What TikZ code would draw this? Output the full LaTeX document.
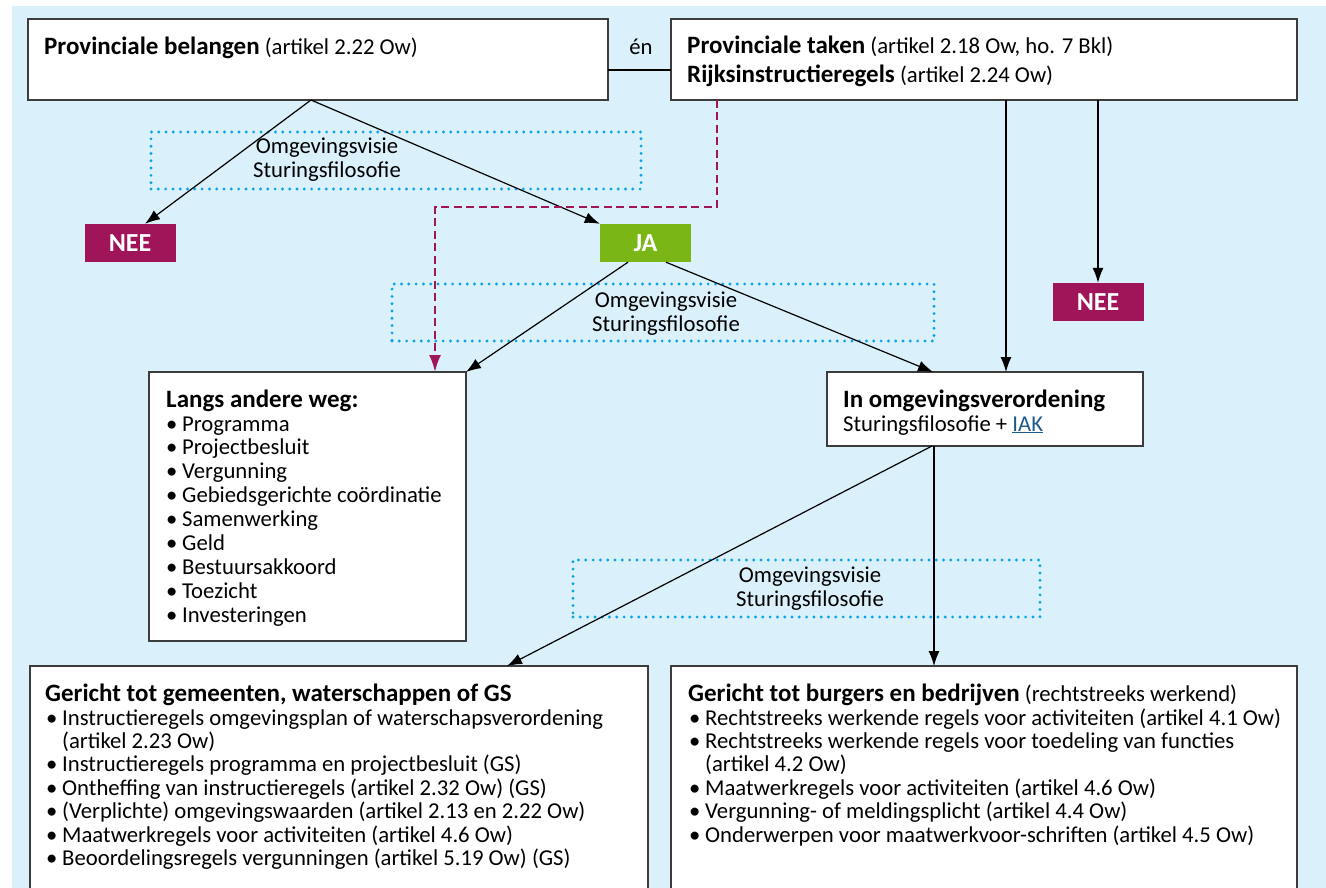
\documentclass[tikz,border=0pt]{standalone}
\usepackage{fontspec}
\setmainfont{Carlito}
\usetikzlibrary{arrows.meta,calc}
\definecolor{bgblue}{RGB}{218,240,251}
\definecolor{neecol}{RGB}{160,21,90}
\definecolor{jacol}{RGB}{122,182,22}
\definecolor{dotblue}{RGB}{10,164,230}
\definecolor{boxgray}{RGB}{60,60,60}
\definecolor{linkblue}{RGB}{31,90,140}
\newcommand\fsz{\fontsize{22.7pt}{24pt}\selectfont}
\newcommand\hb[1]{{\fontsize{25pt}{24pt}\selectfont\bfseries #1}}
\newcommand\itm[2]{\ifnum#1=1 \makebox[16pt][l]{•}\else\hspace*{16pt}\fi #2}
\tikzset{
  box/.style={draw=boxgray, line width=1.4pt, fill=white, anchor=north west, inner sep=0pt, outer sep=0pt},
  tagbox/.style={fill=#1, text=white, font=\fontsize{26pt}{28pt}\selectfont\bfseries, inner sep=0pt, minimum width=91pt, minimum height=38pt},
  dotbox/.style={draw=dotblue, line width=3.2pt, line cap=round, dash pattern=on 0pt off 7.3pt, anchor=north west, inner sep=0pt, outer sep=0pt},
  txt/.style={anchor=base west, inner sep=0pt, font=\fsz},
  ctxt/.style={anchor=base, inner sep=0pt, font=\fsz},
  arr/.style={draw=black, line width=1.2pt, -{Latex[length=15pt,width=11pt]}},
  magarr/.style={draw=neecol, line width=2.2pt, dash pattern=on 8pt off 4.5pt, -{Latex[length=17pt,width=12pt]}},
}
\begin{document}
\begin{tikzpicture}[x=1pt,y=-1pt]
\useasboundingbox (0,0) rectangle (1326,888);
\clip (0,0) rectangle (1326,888);
\fill[white] (0,0) rectangle (1326,888);
\fill[bgblue] (12,6) rectangle (1326,888);

% dotted boxes
\node[dotbox, minimum width=490pt, minimum height=57pt] (d1) at (151,132) {};
\node[dotbox, minimum width=542pt, minimum height=57pt] (d2) at (392,284) {};
\node[dotbox, minimum width=467pt, minimum height=57pt] (d3) at (573,560) {};
\node[ctxt] (d1a) at (327,154) {Omgevingsvisie};
\node[ctxt] (d1b) at (327,178) {Sturingsfilosofie};
\node[ctxt] (d2a) at (666,307) {Omgevingsvisie};
\node[ctxt] (d2b) at (666,331) {Sturingsfilosofie};
\node[ctxt] (d3a) at (810,582) {Omgevingsvisie};
\node[ctxt] (d3b) at (810,606) {Sturingsfilosofie};

% boxes
\node[box, minimum width=580pt, minimum height=81pt] (b1) at (28,19) {};
\node[box, minimum width=626pt, minimum height=81pt] (b2) at (671,19) {};
\node[box, minimum width=317pt, minimum height=269pt] (langs) at (149,372) {};
\node[box, minimum width=316pt, minimum height=74pt] (inb) at (827,372) {};
\node[box, minimum width=618pt, minimum height=260pt] (bl) at (30,666) {};
\node[box, minimum width=626pt, minimum height=260pt] (br) at (671,666) {};

\node[tagbox=neecol] (nee1) at (130,243) {NEE};
\node[tagbox=jacol] (ja) at (645.5,243) {JA};
\node[tagbox=neecol] (nee2) at (1098,302) {NEE};

% texts in boxes
\node[txt] (b1t) at (44,55) {\hb{Provinciale belangen} (artikel 2.22 Ow)};
\node[ctxt] (en) at (641,55) {én};
\node[txt] (b2t1) at (687,54) {\hb{Provinciale taken} (artikel 2.18 Ow, ho. 7 Bkl)};
\node[txt] (b2t2) at (687,83) {\hb{Rijksinstructieregels} (artikel 2.24 Ow)};

\node[txt] (lt) at (166,407) {\hb{Langs andere weg:}};
\foreach \t [count=\i] in {Programma,Projectbesluit,Vergunning,Gebiedsgerichte coördinatie,Samenwerking,Geld,Bestuursakkoord,Toezicht,Investeringen}
  \node[txt] (li\i) at (166,{431+23.9*(\i-1)}) {\itm{1}{\t}};

\node[txt] (it1) at (843,407) {\hb{In omgevingsverordening}};
\node[txt] (it2) at (843,431) {Sturingsfilosofie + \textcolor{linkblue}{\underline{IAK}}};

\node[txt] (blt) at (45,701) {\hb{Gericht tot gemeenten, waterschappen of GS}};
\foreach \b/\t [count=\i] in {1/Instructieregels omgevingsplan of waterschapsverordening,0/(artikel 2.23 Ow),1/Instructieregels programma en projectbesluit (GS),1/Ontheffing van instructieregels (artikel 2.32 Ow) (GS),1/(Verplichte) omgevingswaarden (artikel 2.13 en 2.22 Ow),1/Maatwerkregels voor activiteiten (artikel 4.6 Ow),1/Beoordelingsregels vergunningen (artikel 5.19 Ow) (GS)}
  \node[txt] (bli\i) at (46,{725+23.4*(\i-1)}) {\itm{\b}{\t}};

\node[txt] (brt) at (688,701) {\hb{Gericht tot burgers en bedrijven} (rechtstreeks werkend)};
\foreach \b/\t [count=\i] in {1/Rechtstreeks werkende regels voor activiteiten (artikel 4.1 Ow),1/Rechtstreeks werkende regels voor toedeling van functies,0/(artikel 4.2 Ow),1/Maatwerkregels voor activiteiten (artikel 4.6 Ow),1/Vergunning- of meldingsplicht (artikel 4.4 Ow),1/Onderwerpen voor maatwerkvoor-schriften (artikel 4.5 Ow)}
  \node[txt] (bri\i) at (689,{725+23.4*(\i-1)}) {\itm{\b}{\t}};

% connectors
\draw[line width=1.2pt] ([yshift=-10.5pt]b1.east) -- ([yshift=-10.5pt]b2.west);
\draw[arr] ([xshift=-7pt]b1.south) -- ([xshift=15pt]nee1.north);
\draw[arr] ([xshift=-7pt]b1.south) -- (ja.north west);
\draw[arr] (b2.south -| nee2.north) -- (nee2.north);
\coordinate (vx) at (1006,0);
\draw[arr] (b2.south -| vx) -- (inb.north -| vx);
\draw[arr] ([xshift=-17.5pt]ja.south) -- (langs.north east);
\draw[arr] ([xshift=20.5pt]ja.south) -- ([xshift=-52pt]inb.north);
\draw[arr] ([xshift=-53pt]inb.south) -- ([xshift=-141pt]bl.north east);
\coordinate (vx2) at (934,0);
\draw[arr] (inb.south -| vx2) -- (br.north -| vx2);
\coordinate (m1) at (717,207);
\coordinate (m2) at (435,207);
\draw[magarr] (b2.south west -| m1) -- (m1) -- (m2) -- (langs.north -| m2);
\end{tikzpicture}
\end{document}
